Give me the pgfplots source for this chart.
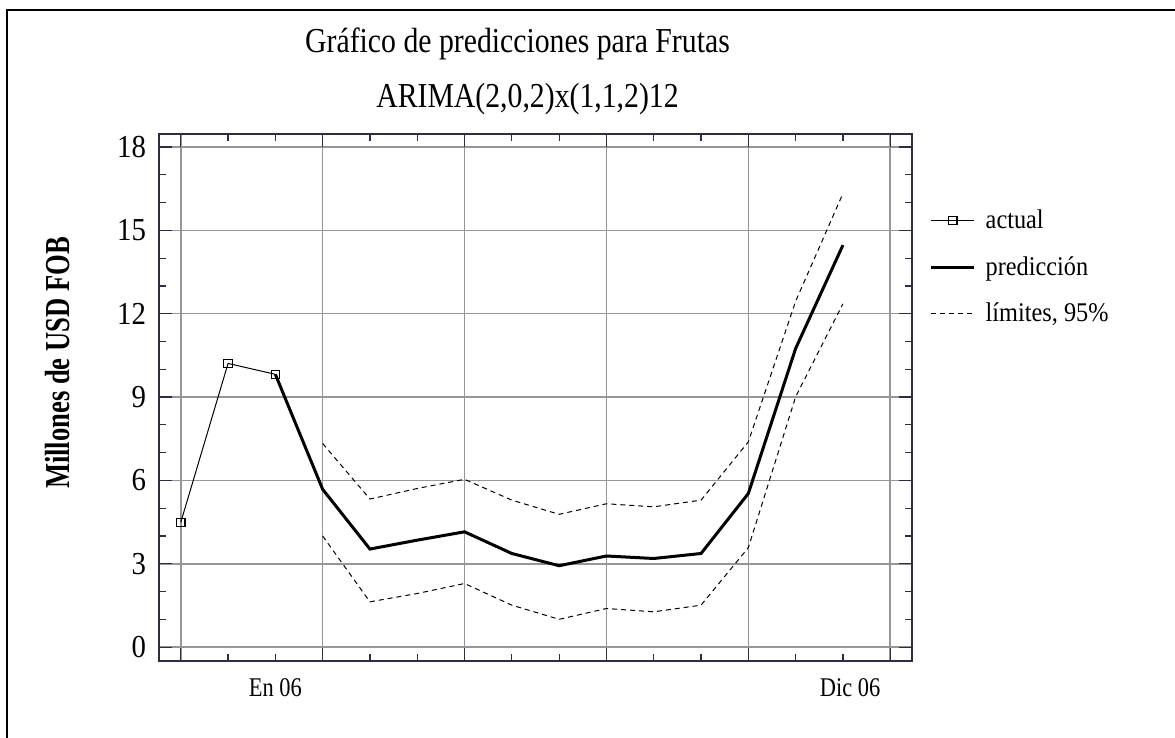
\documentclass[border=0pt]{standalone}
\usepackage{pgfplots}
\pgfplotsset{compat=1.18}
\usepackage{fontspec}
\setmainfont{Liberation Serif}
\definecolor{axcol}{RGB}{45,45,65}
\definecolor{gridcol}{RGB}{150,150,150}
\newcommand{\legtxt}[1]{\scalebox{0.9}[1]{#1}}
\begin{document}
\begin{tikzpicture}
\path[use as bounding box] (0pt,0pt) rectangle (587.5pt,-369pt);
\begin{axis}[
  at={(79.5pt,-330.5pt)}, anchor=south west,
  scale only axis, width=376.5pt, height=263.5pt,
  xmin=-0.46, xmax=15.46, ymin=-0.5, ymax=18.47,
  xtick={0,3,...,15}, minor xtick={0,...,15}, xticklabels={},
  ytick={0,3,...,18}, minor ytick={0,...,18},
  yticklabel={\scalebox{0.9}[1]{\pgfmathprintnumber{\tick}}},
  extra x ticks={2,14.15}, extra x tick labels={\scalebox{0.83}[1]{En 06},\scalebox{0.83}[1]{Dic 06}},
  extra x tick style={grid=none, major tick length=0pt},
  grid=major,
  major grid style={gridcol, line width=0.75pt},
  tick align=inside, tick pos=both,
  major tick length=6.5pt, minor tick length=3.3pt,
  every tick/.style={axcol, line width=0.6pt},
  axis line style={axcol, line width=1pt},
  /pgf/number format/assume math mode=true,
  yticklabel style={font=\fontsize{16}{16}\selectfont, xshift=-3pt},
  xticklabel style={font=\fontsize{13.5}{13.5}\selectfont, yshift=-5pt},
  legend style={draw=none, fill=none, at={(1.023,0.865)}, anchor=north west,
    font=\fontsize{13.5}{13.5}\selectfont, row sep=8.5pt, column sep=3pt, inner sep=0pt,
    cells={anchor=west}},
  legend cell align=left,
  legend image code/.code={\draw[mark repeat=2,mark phase=2,#1] plot coordinates {(0pt,0pt) (10.75pt,0pt) (21.5pt,0pt)};},
]
\addplot[black, line width=0.5pt, mark=square, mark size=2.1pt, mark options={solid, line width=0.6pt}]
  coordinates {(0,4.49) (1,10.21) (2,9.82)};
\addlegendentry{\legtxt{actual}}
\addplot[black, line width=1.5pt, mark=none]
  coordinates {(2,9.82) (3,5.68) (4,3.53) (5,3.85) (6,4.15) (7,3.37) (8,2.93) (9,3.28) (10,3.19) (11,3.37) (12,5.53) (13,10.75) (14,14.47)};
\addlegendentry{\legtxt{predicción}}
\addplot[black, line width=0.5pt, dash pattern=on 2.5pt off 2pt, mark=none]
  coordinates {(3,7.33) (4,5.33) (5,5.71) (6,6.04) (7,5.29) (8,4.78) (9,5.16) (10,5.05) (11,5.29) (12,7.39) (13,12.45) (14,16.33)};
\addlegendentry{\legtxt{límites, 95\%}}
\addplot[black, line width=0.5pt, dash pattern=on 2.5pt off 2pt, mark=none, forget plot]
  coordinates {(3,4.00) (4,1.63) (5,1.93) (6,2.29) (7,1.51) (8,1.00) (9,1.39) (10,1.27) (11,1.51) (12,3.58) (13,9.01) (14,12.36)};
\end{axis}
\begin{scope}[x=0.5pt,y=-0.5pt]
\draw[black, line width=1.3pt] (7,738) -- (7,10) -- (1175,10);
\node[anchor=base] at (517.5,53) {\scalebox{0.85}[1]{\fontsize{17.5}{17.5}\selectfont Gráfico de predicciones para Frutas}};
\node[anchor=base] at (527.5,108) {\scalebox{0.85}[1]{\fontsize{17.5}{17.5}\selectfont ARIMA(2,0,2)x(1,1,2)12}};
\node[rotate=90] at (57.5,363) {\scalebox{0.76}[1]{\bfseries\fontsize{17.5}{17.5}\selectfont Millones de USD FOB}};
\end{scope}
\end{tikzpicture}
\end{document}
